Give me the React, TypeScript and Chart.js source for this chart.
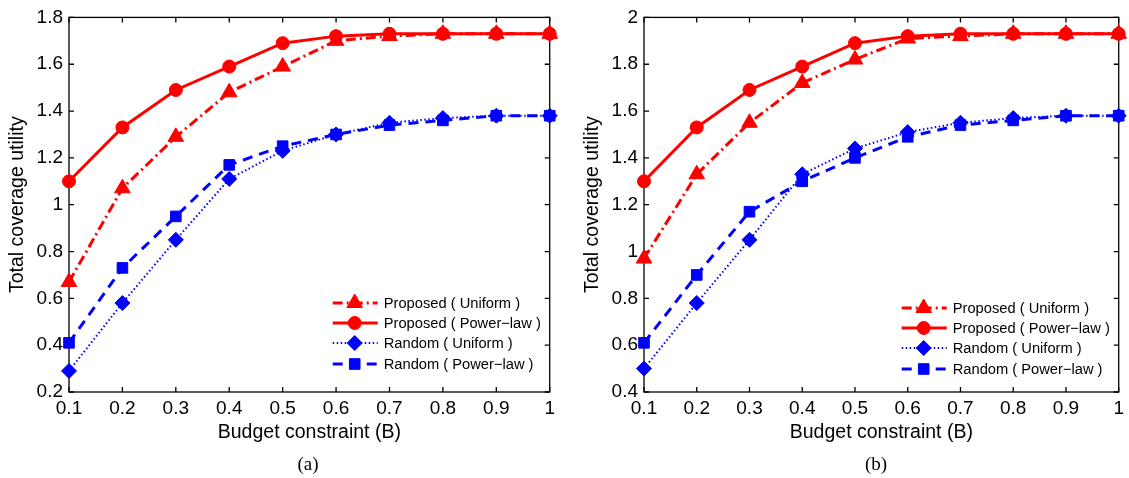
import React, { useEffect, useRef } from 'react';
import { Chart, registerables } from 'chart.js';
import { drawPoint } from 'chart.js/helpers';

Chart.register(...registerables);

// Budget constraint values along the x axis
const budget = [0.1, 0.2, 0.3, 0.4, 0.5, 0.6, 0.7, 0.8, 0.9, 1.0];
const xTicks = [0.1, 0.2, 0.3, 0.4, 0.5, 0.6, 0.7, 0.8, 0.9, 1.0];
const yTicksA = [0.2, 0.4, 0.6, 0.8, 1.0, 1.2, 1.4, 1.6, 1.8];
const yTicksB = [0.4, 0.6, 0.8, 1.0, 1.2, 1.4, 1.6, 1.8, 2.0];

const seriesNames = [
  'Proposed ( Uniform )',
  'Proposed ( Power\u2212law )',
  'Random ( Uniform )',
  'Random ( Power\u2212law )',
];

// Panel (a)
const proposedUniformA = [0.67, 1.07, 1.29, 1.48, 1.59, 1.70, 1.72, 1.73, 1.73, 1.73];
const proposedPowerA = [1.10, 1.33, 1.49, 1.59, 1.69, 1.72, 1.73, 1.73, 1.73, 1.73];
const randomUniformA = [0.29, 0.58, 0.85, 1.11, 1.23, 1.30, 1.35, 1.37, 1.38, 1.38];
const randomPowerA = [0.41, 0.73, 0.95, 1.17, 1.25, 1.30, 1.34, 1.36, 1.38, 1.38];

// Panel (b)
const proposedUniformB = [0.97, 1.33, 1.55, 1.72, 1.82, 1.91, 1.92, 1.93, 1.93, 1.93];
const proposedPowerB = [1.30, 1.53, 1.69, 1.79, 1.89, 1.92, 1.93, 1.93, 1.93, 1.93];
const randomUniformB = [0.50, 0.78, 1.05, 1.33, 1.44, 1.51, 1.55, 1.57, 1.58, 1.58];
const randomPowerB = [0.61, 0.90, 1.17, 1.30, 1.40, 1.49, 1.54, 1.56, 1.58, 1.58];

const RED = '#ff0000';
const BLUE = '#0000ff';
const FONT = '"Liberation Sans", Arial, Helvetica, sans-serif';
const TICK_SIZE = 19;
const TITLE_SIZE = 19.5;

const styles = [
  { color: RED, dash: [10, 4, 2, 4], width: 3, point: 'triangle', radius: 9 },
  { color: RED, dash: [], width: 3, point: 'circle', radius: 6.5 },
  { color: BLUE, dash: [1.5, 2.5], width: 2, point: 'rectRot', radius: 7.5 },
  { color: BLUE, dash: [10, 7], width: 3, point: 'rect', radius: 7.5 },
];

const fmt = (v: number) => String(Number(v.toFixed(1)));

// Box around the plot with inward tick marks on all four sides
const framePlugin = {
  id: 'frame',
  beforeDatasetsDraw(chart: any) {
    const { ctx, chartArea: a } = chart;
    const xs = chart.scales.x;
    const ys = chart.scales.y;
    const len = 5;
    ctx.save();
    ctx.strokeStyle = '#000';
    ctx.lineWidth = 1.3;
    ctx.setLineDash([]);
    ctx.strokeRect(a.left, a.top, a.right - a.left, a.bottom - a.top);
    ctx.beginPath();
    xs.ticks.forEach((t: any) => {
      const x = xs.getPixelForValue(t.value);
      ctx.moveTo(x, a.bottom);
      ctx.lineTo(x, a.bottom - len);
      ctx.moveTo(x, a.top);
      ctx.lineTo(x, a.top + len);
    });
    ys.ticks.forEach((t: any) => {
      const y = ys.getPixelForValue(t.value);
      ctx.moveTo(a.left, y);
      ctx.lineTo(a.left + len, y);
      ctx.moveTo(a.right, y);
      ctx.lineTo(a.right - len, y);
    });
    ctx.stroke();
    ctx.restore();
  },
};

// Legend drawn inside the plot, lower right
const insideLegendPlugin = {
  id: 'insideLegend',
  afterDraw(chart: any, _args: any, opts: any) {
    const { ctx, chartArea: a } = chart;
    const lineStart = a.right - opts.fromRight;
    const lineEnd = lineStart + 45;
    const mid = lineStart + 22;
    const textX = lineStart + 51;
    ctx.save();
    chart.data.datasets.forEach((ds: any, i: number) => {
      const y = a.bottom - opts.rows[i];
      const st = styles[i];
      ctx.strokeStyle = st.color;
      ctx.lineWidth = st.width;
      ctx.setLineDash(st.dash);
      ctx.beginPath();
      ctx.moveTo(lineStart, y);
      ctx.lineTo(lineEnd, y);
      ctx.stroke();
      ctx.setLineDash([]);
      ctx.fillStyle = st.color;
      ctx.strokeStyle = st.color;
      ctx.lineWidth = 1;
      drawPoint(ctx, { pointStyle: st.point, radius: st.radius, rotation: 0, borderWidth: 1 }, mid, y);
      ctx.fillStyle = '#000';
      ctx.font = `14.7px ${FONT}`;
      ctx.textAlign = 'left';
      ctx.textBaseline = 'middle';
      ctx.fillText(ds.label, textX, y + 1);
    });
    ctx.restore();
  },
};

function makeConfig(series: number[][], yTicks: number[], axisWidth: number, titlePad: number, legendRows: number[]) {
  return {
    type: 'line' as const,
    data: {
      labels: budget,
      datasets: series.map((vals, i) => ({
        label: seriesNames[i],
        data: vals.map((v, j) => ({ x: budget[j], y: v })),
        borderColor: styles[i].color,
        backgroundColor: styles[i].color,
        borderWidth: styles[i].width,
        borderDash: styles[i].dash,
        pointStyle: styles[i].point,
        pointRadius: styles[i].radius,
        pointBorderWidth: 1,
        pointBackgroundColor: styles[i].color,
        pointBorderColor: styles[i].color,
        tension: 0,
        clip: false,
        fill: false,
      })),
    },
    options: {
      animation: false,
      responsive: false,
      events: [],
      layout: { padding: { top: 15, right: 0, bottom: 0, left: 0 } },
      plugins: {
        legend: { display: false },
        tooltip: { enabled: false },
        insideLegend: { fromRight: 217, rows: legendRows },
      },
      scales: {
        x: {
          type: 'linear',
          min: 0.1,
          max: 1,
          grid: { display: false, drawTicks: false },
          border: { display: false },
          afterBuildTicks: (s: any) => {
            s.ticks = xTicks.map((v) => ({ value: v }));
          },
          afterFit: (s: any) => {
            s.height = 86;
          },
          ticks: {
            padding: 5,
            color: '#000',
            font: { family: FONT, size: TICK_SIZE },
            maxRotation: 0,
            autoSkip: false,
            callback: (v: number) => fmt(v),
          },
          title: {
            display: true,
            text: 'Budget constraint (B)',
            color: '#000',
            font: { family: FONT, size: TITLE_SIZE },
            padding: { top: 0, bottom: 34 },
          },
        },
        y: {
          type: 'linear',
          min: yTicks[0],
          max: yTicks[yTicks.length - 1],
          grid: { display: false, drawTicks: false },
          border: { display: false },
          afterBuildTicks: (s: any) => {
            s.ticks = yTicks.map((v) => ({ value: v }));
          },
          afterFit: (s: any) => {
            s.width = axisWidth;
          },
          ticks: {
            padding: 6,
            color: '#000',
            font: { family: FONT, size: TICK_SIZE },
            autoSkip: false,
            callback: (v: number) => fmt(v),
          },
          title: {
            display: true,
            text: 'Total coverage utility',
            color: '#000',
            font: { family: FONT, size: TITLE_SIZE },
            padding: { top: titlePad, bottom: 0 },
          },
        },
      },
    },
    plugins: [framePlugin, insideLegendPlugin],
  };
}

function Panel(props: { width: number; config: any }) {
  const ref = useRef<HTMLCanvasElement>(null);
  useEffect(() => {
    if (!ref.current) return;
    const chart = new Chart(ref.current, props.config);
    return () => chart.destroy();
  }, []);
  return <canvas ref={ref} width={props.width} height={478} style={{ display: 'block', width: props.width, height: 478 }} />;
}

const configA = makeConfig(
  [proposedUniformA, proposedPowerA, randomUniformA, randomPowerA],
  yTicksA,
  69,
  6,
  [89, 69, 49, 28]
);
const configB = makeConfig(
  [proposedUniformB, proposedPowerB, randomUniformB, randomPowerB],
  yTicksB,
  84,
  21,
  [84, 64, 44, 23]
);

const captionStyle: React.CSSProperties = {
  position: 'absolute',
  top: 453,
  fontFamily: '"Liberation Serif", "Times New Roman", serif',
  fontSize: 19,
  color: '#000',
  transform: 'translateX(-50%)',
  lineHeight: '22px',
};

export default function App() {
  return (
    <div style={{ position: 'fixed', left: 0, top: 0, width: 1129, height: 478, background: '#fff', overflow: 'hidden' }}>
      <div style={{ position: 'absolute', left: 0, top: 0 }}>
        <Panel width={560} config={configA} />
      </div>
      <div style={{ position: 'absolute', left: 560, top: 0 }}>
        <Panel width={569} config={configB} />
      </div>
      <div style={{ ...captionStyle, left: 308 }}>(a)</div>
      <div style={{ ...captionStyle, left: 876 }}>(b)</div>
    </div>
  );
}
